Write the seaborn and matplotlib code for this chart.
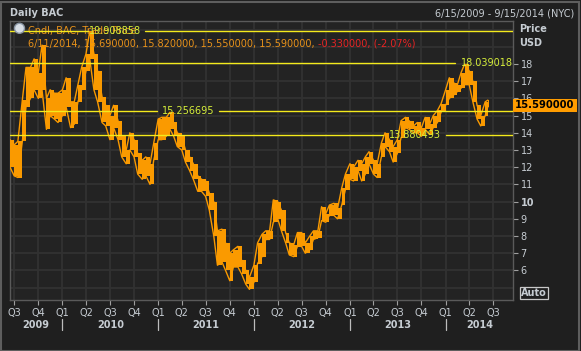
import matplotlib
matplotlib.use('Agg')
import matplotlib.pyplot as plt
import matplotlib.dates as mdates
import matplotlib.transforms as mtrans
from matplotlib.patches import Rectangle, Circle
import numpy as np
import pandas as pd
import seaborn as sns

# ---------------- data ----------------
dates = [
    '2009-06-15', '2009-07-01', '2009-07-15', '2009-08-01', '2009-08-15', '2009-09-01', '2009-09-15',
    '2009-10-01', '2009-10-15', '2009-11-01', '2009-11-15', '2009-12-01', '2009-12-15',
    '2010-01-01', '2010-01-15', '2010-02-01', '2010-02-15', '2010-03-01', '2010-03-15',
    '2010-04-01', '2010-04-15', '2010-05-01', '2010-05-15', '2010-06-01', '2010-06-15',
    '2010-07-01', '2010-07-15', '2010-08-01', '2010-08-15', '2010-09-01', '2010-09-15',
    '2010-10-01', '2010-10-15', '2010-11-01', '2010-11-15', '2010-12-01', '2010-12-15',
    '2011-01-01', '2011-01-15', '2011-02-01', '2011-02-15', '2011-03-01', '2011-03-15',
    '2011-04-01', '2011-04-15', '2011-05-01', '2011-05-15', '2011-06-01', '2011-06-15',
    '2011-07-01', '2011-07-15', '2011-08-01', '2011-08-15', '2011-09-01', '2011-09-15',
    '2011-10-01', '2011-10-15', '2011-11-01', '2011-11-15', '2011-12-01', '2011-12-15',
    '2012-01-01', '2012-01-15', '2012-02-01', '2012-02-15', '2012-03-01', '2012-03-15',
    '2012-04-01', '2012-04-15', '2012-05-01', '2012-05-15', '2012-06-01', '2012-06-15',
    '2012-07-01', '2012-07-15', '2012-08-01', '2012-08-15', '2012-09-01', '2012-09-15',
    '2012-10-01', '2012-10-15', '2012-11-01', '2012-11-15', '2012-12-01', '2012-12-15',
    '2013-01-01', '2013-01-15', '2013-02-01', '2013-02-15', '2013-03-01', '2013-03-15',
    '2013-04-01', '2013-04-15', '2013-05-01', '2013-05-15', '2013-06-01', '2013-06-15',
    '2013-07-01', '2013-07-15', '2013-08-01', '2013-08-15', '2013-09-01', '2013-09-15',
    '2013-10-01', '2013-10-15', '2013-11-01', '2013-11-15', '2013-12-01', '2013-12-15',
    '2014-01-01', '2014-01-15', '2014-02-01', '2014-02-15', '2014-03-01', '2014-03-15',
    '2014-04-01', '2014-04-15', '2014-05-01', '2014-05-15', '2014-06-01', '2014-06-11',
]
lows = [
    12.0, 11.5, 11.4, 13.5, 15.5, 16.0, 16.5, 16.0, 16.5, 14.2, 15.0, 14.8, 14.6,
    15.0, 15.5, 14.3, 14.5, 15.8, 16.5, 17.6, 18.3, 16.5, 15.8, 14.6, 14.4,
    13.6, 14.3, 13.6, 12.6, 12.2, 13.0, 12.6, 11.6, 11.3, 11.5, 11.0, 12.4,
    13.6, 13.6, 13.8, 14.2, 13.8, 13.2, 13.0, 12.3, 11.8, 11.3, 10.6, 10.6,
    10.3, 9.5, 8.0, 6.3, 6.5, 6.0, 5.4, 6.2, 6.2, 5.8, 5.2, 4.9,
    5.3, 6.4, 6.8, 7.8, 7.8, 8.8, 9.0, 8.3, 7.6, 6.9, 6.8, 7.4,
    7.4, 7.0, 7.2, 7.8, 7.9, 8.9, 8.8, 9.2, 9.2, 9.0, 9.8, 10.7,
    11.3, 11.2, 11.8, 11.2, 11.6, 12.2, 11.6, 11.4, 12.6, 13.2, 12.9, 12.3,
    12.8, 13.7, 14.3, 14.2, 14.0, 14.0, 13.8, 14.2, 13.9, 14.3, 14.6, 15.2,
    15.6, 16.0, 16.2, 16.4, 16.6, 16.8, 16.8, 15.8, 14.8, 14.4, 15.0, 15.5,
]
highs = [
    13.6, 13.3, 13.5, 15.9, 17.8, 17.8, 18.3, 17.5, 19.1, 16.0, 16.5, 16.3, 16.3,
    16.5, 17.2, 15.8, 15.8, 16.8, 17.8, 18.6, 19.9, 18.6, 17.6, 16.1, 15.6,
    15.0, 15.6, 14.7, 13.8, 13.0, 14.0, 13.6, 12.8, 12.4, 12.6, 12.2, 13.4,
    14.8, 14.9, 14.9, 15.2, 14.6, 14.0, 13.8, 13.0, 12.6, 12.2, 11.5, 11.3,
    11.2, 10.5, 10.0, 8.3, 8.4, 7.6, 7.0, 7.2, 7.4, 6.6, 6.0, 5.6,
    6.3, 7.6, 8.1, 8.3, 8.3, 10.1, 10.0, 9.5, 8.2, 7.6, 7.5, 8.2,
    8.2, 7.6, 8.0, 8.3, 8.3, 9.7, 9.3, 9.8, 9.9, 9.6, 10.8, 11.6,
    12.2, 12.0, 12.4, 12.2, 12.6, 12.9, 12.4, 12.2, 13.4, 14.0, 13.6, 13.2,
    13.6, 14.7, 14.9, 14.7, 14.4, 14.6, 14.3, 14.9, 14.5, 15.0, 15.3, 15.7,
    16.5, 17.2, 16.9, 16.8, 17.5, 18.0, 17.6, 17.0, 15.6, 15.0, 15.8, 15.9,
]
levels = [19.908858, 18.039018, 15.256695, 13.880493]
last_ohlc = [15.69, 15.82, 15.55, 15.59]
last_date = '6/11/2014'
change = -0.33
change_pct = -2.07
last_price = 15.59
range_text = '6/15/2009 - 9/15/2014 (NYC)'
quarter_ticks = ['2009-07-01', '2009-10-01', '2010-01-01', '2010-04-01', '2010-07-01', '2010-10-01',
                 '2011-01-01', '2011-04-01', '2011-07-01', '2011-10-01', '2012-01-01', '2012-04-01',
                 '2012-07-01', '2012-10-01', '2013-01-01', '2013-04-01', '2013-07-01', '2013-10-01',
                 '2014-01-01', '2014-04-01', '2014-07-01']
quarter_labels = ['Q3', 'Q4', 'Q1', 'Q2', 'Q3', 'Q4', 'Q1', 'Q2', 'Q3', 'Q4', 'Q1', 'Q2',
                  'Q3', 'Q4', 'Q1', 'Q2', 'Q3', 'Q4', 'Q1', 'Q2', 'Q3']
years = [2009, 2010, 2011, 2012, 2013, 2014]
price_ticks = [6, 7, 8, 9, 10, 11, 12, 13, 14, 15, 16, 17, 18]

# ---------------- style ----------------
sns.set_theme(style='dark')
plt.rcParams['font.family'] = ['DejaVu Sans']

W, H = 581, 351
BG = '#1f1f1f'
PLOT_BG = '#232323'
GRID = '#323232'
TXT = '#c6ccd2'
ORANGE = '#fa9a00'
YEL = '#f4ea1c'
LVL_TXT = '#d6ee3a'

fig = plt.figure(figsize=(W / 100, H / 100), dpi=100, facecolor=BG)
L, R, T, B = 10, 513, 21, 300
ax = fig.add_axes([L / W, 1 - B / H, (R - L) / W, (B - T) / H])
ax.set_facecolor(PLOT_BG)

def fx(px):
    return px / W

def fy(py):
    return 1 - py / H

df = pd.DataFrame({'date': pd.to_datetime(dates), 'low': lows, 'high': highs})
x0 = pd.Timestamp('2009-06-15')
x1 = pd.Timestamp('2014-09-15')
ax.set_xlim(x0, x1)
ax.set_ylim(4.28, 20.5)

# grid
qt = pd.to_datetime(quarter_ticks)
for q in qt:
    ax.axvline(q, color=GRID, lw=1.3, zorder=0.5)
for v in range(5, 21):
    ax.axhline(v, color=GRID, lw=1.3, zorder=0.5)

# price band (candles condensed)
widths = np.diff(np.append(mdates.date2num(df['date']), mdates.date2num(df['date'].iloc[-1]) + 6))
ax.bar(df['date'], df['high'] - df['low'], bottom=df['low'], width=widths, align='edge',
       color=ORANGE, edgecolor='none', zorder=3)
sns.lineplot(data=df, x='date', y='high', ax=ax, color=ORANGE, lw=1.0, zorder=3)
sns.lineplot(data=df, x='date', y='low', ax=ax, color=ORANGE, lw=1.0, zorder=3)
ax.set_xlabel('')
ax.set_ylabel('')

# spines
for s in ax.spines.values():
    s.set_color('#5a5a5a')
    s.set_linewidth(1.0)
    s.set_visible(True)

# y axis on right
ax.set_yticks(price_ticks)
ax.set_yticklabels([str(t) for t in price_ticks])
ax.yaxis.tick_right()
ax.tick_params(axis='y', right=True, left=False, labelright=True, labelleft=False,
               length=3.5, width=0.8, color='#a0a0a0', labelcolor=TXT, labelsize=7, pad=2)
for lab in ax.get_yticklabels():
    if lab.get_text() == '10':
        lab.set_fontweight('bold')

# x axis quarters
ax.set_xticks(qt)
ax.set_xticklabels(quarter_labels)
ax.tick_params(axis='x', bottom=True, length=3.5, width=0.8, color='#a0a0a0',
               labelcolor=TXT, labelsize=7, pad=2)

# years
tr_xa = mtrans.blended_transform_factory(ax.transData, ax.transAxes)
for yv in years:
    s = max(pd.Timestamp(f'{yv}-01-01'), x0)
    e = min(pd.Timestamp(f'{yv + 1}-01-01'), x1)
    mid = s + (e - s) / 2
    ax.text(mid, (B - 325) / (B - T), str(yv), transform=tr_xa, ha='center', va='center',
            fontsize=7, fontweight='bold', color=TXT, clip_on=False)
    if yv > years[0]:
        ax.plot([pd.Timestamp(f'{yv}-01-01')] * 2, [(B - 319) / (B - T), (B - 330) / (B - T)],
                transform=tr_xa, color='#bdbdbd', lw=0.9, clip_on=False)

# level lines with labels
tr_ay = mtrans.blended_transform_factory(ax.transAxes, ax.transData)
def ax_frac(px):
    return (px - L) / (R - L)
level_layout = [(88, 89, 145), (455, 461, None), (157, 162, 219), (383, 389, 446)]
for v, (gap_start, lab_x, gap_end) in zip(levels, level_layout):
    ax.plot([0, ax_frac(gap_start)], [v, v], transform=tr_ay, color=YEL, lw=1.0, zorder=6)
    if gap_end is not None:
        ax.plot([ax_frac(gap_end), 1], [v, v], transform=tr_ay, color=YEL, lw=1.0, zorder=6)
    ax.text(ax_frac(lab_x), v, f'{v:.6f}', transform=tr_ay, ha='left', va='center',
            fontsize=7, color=LVL_TXT, zorder=7, clip_on=False)

# legend text inside plot
def axp(px, py):
    return ax_frac(px), (B - py) / (B - T)
lx, ly = axp(28, 31)
ax.text(lx, ly, 'Cndl, BAC, Trade Price', transform=ax.transAxes, ha='left', va='center',
        fontsize=7, color='#e8921a', zorder=5)
lx2, ly2 = axp(28, 43.5)
orange_part = last_date + ', ' + ', '.join(f'{v:.6f}' for v in last_ohlc) + ', '
red_part = f'{change:.6f}, ({change_pct:.2f}%)'
t1 = ax.text(lx2, ly2, orange_part, transform=ax.transAxes, ha='left', va='center',
             fontsize=7, color='#e8921a', zorder=5)
ax.annotate(red_part, xy=(1, 0.5), xycoords=t1, ha='left', va='center',
            fontsize=7, color='#e82424', zorder=5)

# clock icon
clk = Circle((19.5 / 100, (H - 28.3) / 100), 0.05, transform=fig.dpi_scale_trans,
             facecolor='#d8dee6', edgecolor='#8a96a4', lw=1.0, zorder=8)
fig.patches.append(clk)
fig.add_artist(plt.Line2D([19.5 / W, 19.5 / W], [fy(28.3), fy(24.5)], color='#303030', lw=0.9))
fig.add_artist(plt.Line2D([19.5 / W, 16.5 / W], [fy(28.3), fy(28.3)], color='#303030', lw=0.9))

# last price box
box_h = 0.38
rect = Rectangle((1.0, last_price - box_h), ax_frac(577) - 1.0, 2 * box_h, transform=tr_ay,
                 facecolor='#ff9c00', edgecolor='none', clip_on=False, zorder=10)
ax.add_patch(rect)
ax.text((1.0 + ax_frac(577)) / 2, last_price, f'{last_price:.6f}', transform=tr_ay,
        ha='center', va='center', fontsize=7.2, fontweight='bold', color='#000000',
        zorder=11, clip_on=False)

# header texts
fig.text(fx(10), fy(12.7), 'Daily BAC', ha='left', va='center', fontsize=7,
         fontweight='bold', color=TXT)
fig.text(fx(574), fy(13.3), range_text, ha='right', va='center', fontsize=7, color=TXT)
fig.text(fx(519), fy(28.5), 'Price', ha='left', va='center', fontsize=7,
         fontweight='bold', color=TXT)
fig.text(fx(519), fy(42.7), 'USD', ha='left', va='center', fontsize=7,
         fontweight='bold', color=TXT)
fig.text(fx(534), fy(293), 'Auto', ha='center', va='center', fontsize=7,
         fontweight='bold', color=TXT,
         bbox=dict(boxstyle='square,pad=0.12', facecolor='none', edgecolor='#c8c8c8', lw=0.9))

# outer frame
fig.add_artist(Rectangle((0.5 / W, 0.5 / H), 1 - 3 / W, 1 - 2 / H, transform=fig.transFigure,
                         facecolor='none', edgecolor='#5e5e5e', lw=1.5))

fig.savefig('out.png', dpi=100, facecolor=BG)
